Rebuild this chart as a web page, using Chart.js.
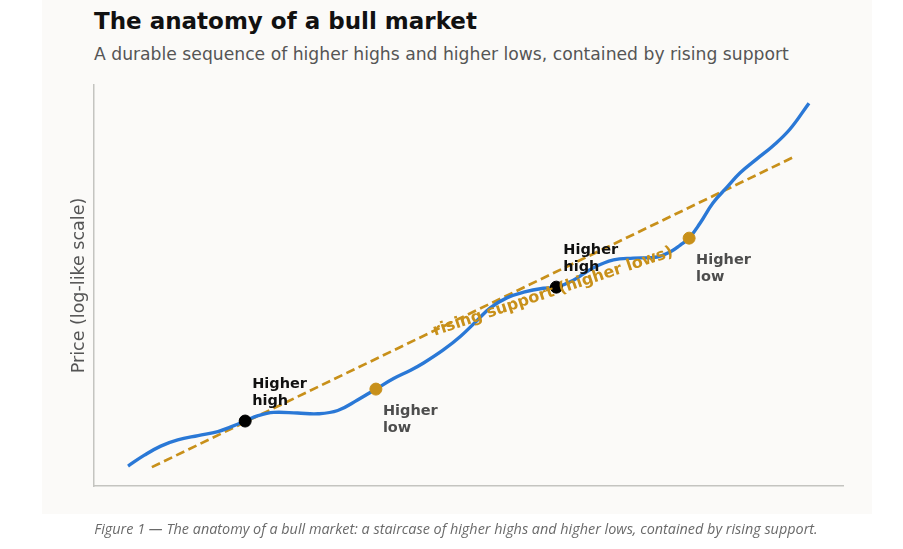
<!DOCTYPE html>
<html>
<head>
<meta charset="utf-8">
<script src="https://cdn.jsdelivr.net/npm/chart.js@4/dist/chart.umd.min.js"></script>
<style>
  html, body { margin: 0; padding: 0; background: #ffffff; }
  #wrap { position: relative; width: 903px; height: 549px; overflow: hidden; }
  #panel { position: absolute; left: 42px; top: 0; width: 830px; height: 514px; background: #fbfaf8; }
  #title { position: absolute; left: 94px; top: 8px; font: bold 23px "DejaVu Sans", sans-serif; color: #111; }
  #subtitle { position: absolute; left: 94px; top: 44px; font: 17.2px "DejaVu Sans", sans-serif; color: #555; }
  #caption { position: absolute; left: 0; width: 912px; top: 519px; text-align: center;
             font: italic 14.4px "Open Sans", "Liberation Sans", sans-serif; color: #6a6a6a; }
  canvas { position: absolute; left: 0; top: 0; }
</style>
</head>
<body>
<div id="wrap">
  <div id="panel"></div>
  <div id="title">The anatomy of a bull market</div>
  <div id="subtitle">A durable sequence of higher highs and higher lows, contained by rising support</div>
  <canvas id="chart" width="903" height="549"></canvas>
  <div id="caption">Figure 1 — The anatomy of a bull market: a staircase of higher highs and higher lows, contained by rising support.</div>
</div>
<script>
// time (years) and log-like price
var timeX = [0, 0.24, 0.48, 0.73, 1.03, 1.32, 1.51, 1.72, 1.91, 2.14, 2.49, 2.79, 3.08, 3.37, 3.64,
    3.90, 4.15, 4.34, 4.63, 4.88, 5.13, 5.32, 5.57, 5.81, 6.10, 6.29, 6.54, 6.83, 7.13, 7.42,
    7.77, 7.96, 8.11, 8.24, 8.40, 8.59, 8.80, 8.99, 9.24, 9.47, 9.72, 10];
var priceY = [0, 0.30, 0.55, 0.72, 0.84, 0.95, 1.08, 1.24, 1.39, 1.48, 1.46, 1.44, 1.53, 1.82, 2.12,
    2.41, 2.64, 2.84, 3.20, 3.57, 4.02, 4.36, 4.64, 4.79, 4.90, 4.93, 5.12, 5.46, 5.68, 5.73,
    5.76, 5.90, 6.09, 6.28, 6.69, 7.25, 7.69, 8.08, 8.47, 8.82, 9.28, 10];

// rising support trendline ends
var supportX = [0.35, 9.77];
var supportY = [-0.03, 8.51];

var highsX = [1.72, 6.29];
var highsY = [1.24, 4.93];
var lowsX = [3.64, 8.24];
var lowsY = [2.12, 6.28];

var highLabel = ['Higher', 'high'];
var lowLabel = ['Higher', 'low'];
var supportLabel = 'rising support (higher lows)';

var BLUE = '#2a78d6';
var GOLD = '#c8901a';

function pts(xs, ys) {
    return xs.map(function (x, i) { return { x: x, y: ys[i] }; });
}

var labelPlugin = {
    id: 'labels',
    afterDatasetsDraw: function (chart) {
        var ctx = chart.ctx;
        var sx = chart.scales.x, sy = chart.scales.y;
        ctx.save();
        ctx.textBaseline = 'alphabetic';
        ctx.textAlign = 'left';
        ctx.font = 'bold 14.5px "DejaVu Sans", sans-serif';
        // higher highs: text above-right of the point
        ctx.fillStyle = '#111111';
        highsX.forEach(function (x, i) {
            var px = sx.getPixelForValue(x) + 7;
            var py = sy.getPixelForValue(highsY[i]) - 33;
            ctx.fillText(highLabel[0], px, py);
            ctx.fillText(highLabel[1], px, py + 17);
        });
        // higher lows: text below-right
        ctx.fillStyle = '#4d4d4d';
        lowsX.forEach(function (x, i) {
            var px = sx.getPixelForValue(x) + 7;
            var py = sy.getPixelForValue(lowsY[i]) + 26;
            ctx.fillText(lowLabel[0], px, py);
            ctx.fillText(lowLabel[1], px, py + 17);
        });
        // support label along the trend
        ctx.fillStyle = GOLD;
        ctx.font = 'bold 16px "DejaVu Sans", sans-serif';
        ctx.textAlign = 'center';
        ctx.textBaseline = 'middle';
        ctx.translate(sx.getPixelForValue(6.24), sy.getPixelForValue(4.8));
        ctx.rotate(-18.5 * Math.PI / 180);
        ctx.fillText(supportLabel, 0, 0);
        ctx.restore();
    }
};

new Chart(document.getElementById('chart'), {
    type: 'line',
    data: {
        datasets: [
            {
                label: 'Rising support',
                data: pts(supportX, supportY),
                borderColor: GOLD,
                borderWidth: 2.7,
                borderDash: [9, 4.5],
                pointRadius: 0,
                fill: false,
                order: 3
            },
            {
                label: 'Price',
                data: pts(timeX, priceY),
                borderColor: BLUE,
                borderWidth: 3.4,
                pointRadius: 0,
                tension: 0.4,
                fill: false,
                order: 2
            },
            {
                label: 'Higher highs',
                data: pts(highsX, highsY),
                showLine: false,
                pointRadius: 6,
                pointBackgroundColor: '#000000',
                pointBorderColor: '#000000',
                order: 1
            },
            {
                label: 'Higher lows',
                data: pts(lowsX, lowsY),
                showLine: false,
                pointRadius: 6,
                pointBackgroundColor: GOLD,
                pointBorderColor: GOLD,
                order: 1
            }
        ]
    },
    options: {
        responsive: false,
        animation: false,
        layout: { padding: { left: 65, right: 60, top: 85, bottom: 63 } },
        plugins: {
            legend: { display: false },
            tooltip: { enabled: false }
        },
        scales: {
            x: {
                type: 'linear',
                min: -0.5,
                max: 10.5,
                grid: { display: false, drawTicks: false },
                ticks: { display: false },
                border: { color: '#c4c4c0', width: 1.5 },
                afterFit: function (scale) { scale.height = 0; }
            },
            y: {
                type: 'linear',
                min: -0.55,
                max: 10.5,
                grid: { display: false, drawTicks: false },
                ticks: { display: false },
                border: { color: '#c4c4c0', width: 1.5 },
                title: {
                    display: true,
                    text: 'Price (log-like scale)',
                    color: '#555555',
                    font: { family: 'DejaVu Sans', size: 17.5 }
                },
                afterFit: function (scale) { scale.width = 29; }
            }
        }
    },
    plugins: [labelPlugin]
});
</script>
</body>
</html>
